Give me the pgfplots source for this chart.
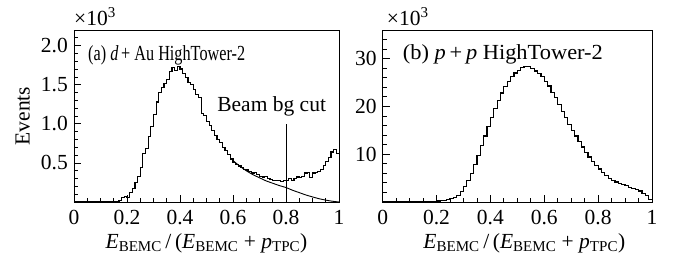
\documentclass[border=0pt]{standalone}
\usepackage{graphicx}
\usepackage{fontspec}
\setmainfont{Liberation Serif}
\usepackage{pgfplots}
\pgfplotsset{compat=1.18}
\newcommand{\bigf}{\fontsize{21.5}{25}\selectfont}
\pgfplotsset{
  hist/.style={
    scale only axis, height=172pt,
    xmin=0, xmax=1, ymin=0, clip=false,
    tick pos=left, tick align=inside,
    axis line style={line width=0.8pt},
    every tick/.style={black, line width=0.8pt},
    major tick length=7pt, minor tick length=4pt,
    xtick={0,0.2,0.4,0.6,0.8,1},
    xticklabels={0,0.2,0.4,0.6,0.8,1},
    minor x tick num=3,
    xticklabel style={inner sep=0pt, yshift=-8pt, font=\bigf},
    yticklabel style={inner sep=0pt, xshift=-6pt, font=\bigf},
    xlabel={\textit{E}\textsubscript{BEMC}\,/\,(\textit{E}\textsubscript{BEMC} + \textit{p}\textsubscript{TPC})},
    xlabel style={at={(rel axis cs:0.5,0)}, anchor=base, yshift=-46pt, inner sep=0pt, font=\bigf},
    /pgf/number format/assume math mode=true,
    font=\bigf,
  }
}
\begin{document}
\begin{tikzpicture}
\useasboundingbox (-74pt,-61pt) rectangle (599pt,202pt);
\begin{axis}[hist, width=265pt, at={(0pt,0pt)}, anchor=south west,
  ymax=2.2,
  ytick={0,0.5,1.0,1.5,2.0},
  yticklabels={,0.5,1.0,1.5,2.0},
  minor ytick={0.1,0.2,0.3,0.4,0.6,0.7,0.8,0.9,1.1,1.2,1.3,1.4,1.6,1.7,1.8,1.9,2.1,2.2},
]
\addplot[const plot, black, line width=1.2pt] table {
x y
0.00 0
0.13 0
0.14 0.005
0.15 0.01
0.16 0.01
0.17 0.015
0.18 0.06
0.19 0.07
0.20 0.06
0.21 0.12
0.22 0.17
0.23 0.25
0.24 0.33
0.25 0.44
0.26 0.62
0.27 0.68
0.28 0.84
0.29 0.97
0.30 1.12
0.31 1.28
0.32 1.40
0.33 1.46
0.34 1.52
0.35 1.57
0.36 1.67
0.37 1.72
0.38 1.68
0.39 1.73
0.40 1.70
0.41 1.64
0.42 1.59
0.43 1.53
0.44 1.50
0.45 1.44
0.46 1.38
0.47 1.34
0.48 1.13
0.49 1.11
0.50 1.03
0.51 0.98
0.52 0.91
0.53 0.85
0.54 0.80
0.55 0.76
0.56 0.70
0.57 0.66
0.58 0.61
0.59 0.55
0.60 0.51
0.61 0.48
0.62 0.46
0.63 0.44
0.64 0.42
0.65 0.41
0.66 0.39
0.67 0.37
0.68 0.38
0.69 0.35
0.70 0.33
0.71 0.32
0.72 0.33
0.73 0.30
0.74 0.29
0.75 0.28
0.76 0.27
0.77 0.28
0.78 0.26
0.79 0.27
0.80 0.28
0.81 0.30
0.82 0.28
0.83 0.30
0.84 0.32
0.85 0.31
0.86 0.33
0.87 0.37
0.88 0.38
0.89 0.31
0.90 0.37
0.91 0.38
0.92 0.39
0.93 0.42
0.94 0.47
0.95 0.52
0.96 0.57
0.97 0.64
0.98 0.67
0.99 0.62
1.00 0.62
};
\addplot[smooth, black, line width=0.9pt] coordinates {
(0.60,0.53) (0.625,0.46) (0.65,0.40) (0.675,0.35) (0.70,0.31) (0.725,0.27)
(0.75,0.24) (0.775,0.21) (0.80,0.185) (0.825,0.15) (0.85,0.12) (0.875,0.09)
(0.90,0.065) (0.925,0.042) (0.95,0.024) (0.975,0.01) (1.0,0.0)
};
\addplot[black, line width=0.8pt] coordinates {(0.8,0) (0.8,1.0)};
\node[anchor=base, inner sep=0pt, font=\bigf] at (axis cs:0.746,1.16) {Beam bg cut};
\node[anchor=base west, inner sep=0pt, font=\bigf] at ([yshift=5pt]rel axis cs:0,1) {×10\textsuperscript{3}};
\node[anchor=base west, inner sep=0pt, font=\bigf] at ([xshift=14pt, yshift=-30pt]rel axis cs:0,1)
  {\resizebox{157pt}{\height}{(a)\ \textit{d}\,+ Au HighTower-2}};
\node[rotate=90, anchor=south, inner sep=0pt, font=\bigf] at ([xshift=-44pt]rel axis cs:0,0.5) {Events};
\end{axis}
\begin{axis}[hist, width=269.3pt, at={(308.7pt,0pt)}, anchor=south west,
  ymax=36,
  ytick={0,10,20,30},
  yticklabels={,10,20,30},
  minor ytick={2,4,6,8,12,14,16,18,22,24,26,28,32,34,36},
  xlabel style={xshift=7pt},
]
\addplot[const plot, black, line width=1.2pt] table {
x y
0.0000 0
0.1500 0
0.1625 0
0.1750 0.05
0.1875 0.1
0.2000 0.2
0.2125 0.25
0.2250 0.35
0.2375 0.5
0.2500 0.7
0.2625 1.0
0.2750 1.4
0.2875 2.2
0.3000 3.3
0.3125 4.5
0.3250 6.0
0.3375 7.8
0.3500 9.7
0.3625 11.8
0.3750 13.8
0.3875 15.8
0.4000 17.7
0.4125 19.6
0.4250 21.2
0.4375 22.8
0.4500 24.2
0.4625 25.3
0.4750 26.3
0.4875 27.0
0.5000 27.6
0.5125 28.1
0.5250 28.4
0.5375 28.3
0.5500 27.9
0.5625 27.4
0.5750 26.9
0.5875 26.2
0.6000 25.3
0.6125 24.3
0.6250 23.0
0.6375 21.8
0.6500 20.4
0.6625 19.0
0.6750 17.7
0.6875 16.3
0.7000 15.0
0.7125 13.8
0.7250 12.6
0.7375 11.5
0.7500 10.4
0.7625 9.4
0.7750 8.5
0.7875 7.6
0.8000 6.9
0.8125 6.2
0.8250 5.5
0.8375 4.9
0.8500 4.5
0.8625 4.2
0.8750 3.9
0.8875 3.6
0.9000 3.4
0.9125 3.1
0.9250 2.9
0.9375 2.6
0.9500 2.3
0.9625 1.8
0.9750 1.3
0.9875 0.6
1.0000 0.6
};
\node[anchor=base west, inner sep=0pt, font=\bigf] at ([xshift=4pt, yshift=5pt]rel axis cs:0,1) {×10\textsuperscript{3}};
\node[anchor=base west, inner sep=0pt, font=\bigf] at ([xshift=20pt, yshift=-29.5pt]rel axis cs:0,1)
  {\resizebox{200pt}{\height}{(b) \textit{p}\,+\,\textit{p} HighTower-2}};
\end{axis}
\end{tikzpicture}
\end{document}
